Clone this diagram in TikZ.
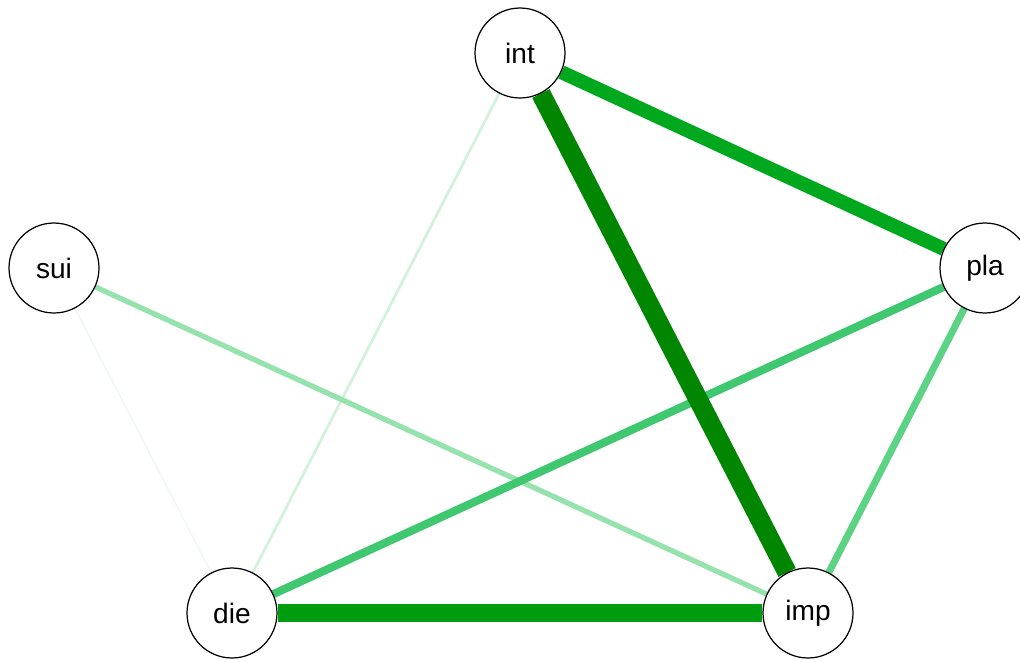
\documentclass[tikz,border=0pt]{standalone}
\usepackage{fontspec}
\setmainfont{Liberation Sans}
\usepackage{tikz}
\usetikzlibrary{backgrounds}

\definecolor{verdeA}{RGB}{0,134,0}
\definecolor{verdeB}{RGB}{0,168,30}
\definecolor{verdeC}{RGB}{0,156,16}
\definecolor{verdeD}{RGB}{64,200,112}
\definecolor{verdeE}{RGB}{92,210,132}
\definecolor{verdeF}{RGB}{150,226,172}
\definecolor{verdeG}{RGB}{210,242,218}
\definecolor{verdeH}{RGB}{238,247,240}

\tikzset{
    nodo/.style={circle, draw, line width=0.7pt, fill=white, minimum size=1.8cm, inner sep=0pt, font=\fontsize{16}{18}\selectfont}
}

\begin{document}
\begin{tikzpicture}[x=0.02cm, y=-0.02cm]
        \useasboundingbox (0,0) rectangle (1020,659);

        % Nodi
        \node[nodo] (int) at (520, 53) {int};
        \node[nodo] (sui) at (54, 268) {sui};
        \node[nodo] (pla) at (985, 268) {pla};
        \node[nodo] (die) at (232, 613) {die};
        \node[nodo] (imp) at (808, 613) {imp};

        % Archi (sotto i nodi)
        \begin{pgfonlayer}{background}
        \draw[verdeH, line width=0.8pt] (sui) -- (die);
        \draw[verdeG, line width=1.6pt] (int) -- (die);
        \draw[verdeF, line width=3pt] (sui) -- (imp);
        \draw[verdeE, line width=4pt] (pla) -- (imp);
        \draw[verdeD, line width=4.6pt] (die) -- (pla);
        \draw[verdeC, line width=10pt] (die) -- (imp);
        \draw[verdeB, line width=8pt] (int) -- (pla);
        \draw[verdeA, line width=11pt] (int) -- (imp);
        \end{pgfonlayer}
    \end{tikzpicture}
\end{document}
